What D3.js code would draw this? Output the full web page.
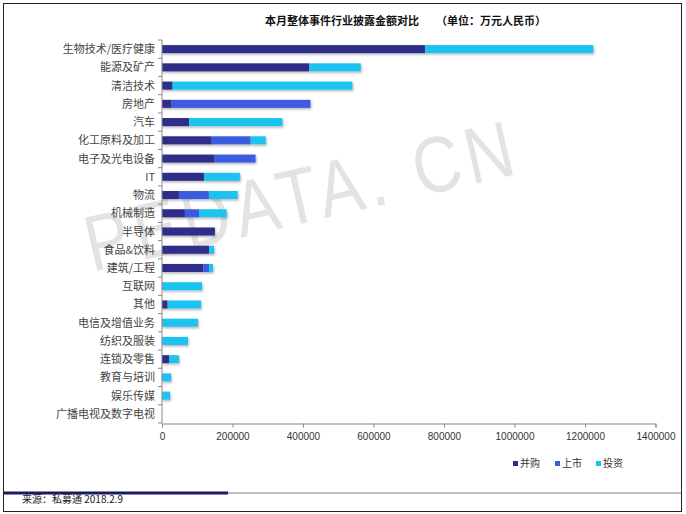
<!DOCTYPE html>
<html><head><meta charset="utf-8">
<script src="https://cdn.jsdelivr.net/npm/d3@7"></script>
<style>
html,body{margin:0;padding:0;background:#fff;}
svg{display:block;font-family:"Noto Sans CJK SC","DejaVu Sans",sans-serif;}
</style></head>
<body>
<svg id="c" width="686" height="514"></svg>
<script>
const categories = ["生物技术/医疗健康","能源及矿产","清洁技术","房地产","汽车","化工原料及加工","电子及光电设备","IT","物流","机械制造","半导体","食品&饮料","建筑/工程","互联网","其他","电信及增值业务","纺织及服装","连锁及零售","教育与培训","娱乐传媒","广播电视及数字电视"];
const seriesNames = ["并购","上市","投资"];
const mergers = [746000,418000,30000,27500,76600,139000,147500,119000,48000,65000,150000,134000,117000,0,16000,0,0,20000,0,0,0];
const ipos    = [0,0,0,393500,0,112600,118000,0,85000,40000,0,0,17000,0,0,0,0,0,0,0,0];
const invest  = [477600,146000,510000,0,265000,42600,0,102000,81700,78500,0,13500,10700,113500,94600,102000,73800,28000,25500,22700,0];
const xTicks = [0,200000,400000,600000,800000,1000000,1200000,1400000];
const colors = ["#2d2e88","#3a5ce0","#1cc2f0"];

const svg = d3.select("#c");
// frame
svg.append("rect").attr("x",3.5).attr("y",3.5).attr("width",678).attr("height",508).attr("fill","#fff").attr("stroke","#222").attr("stroke-width",1);

// watermark
svg.append("text").attr("transform","translate(92,272) rotate(-13) scale(0.92,1.1)")
  .attr("font-family","Liberation Sans, Arial, sans-serif").attr("font-size",72)
  .attr("fill","#e3e3e3").attr("letter-spacing",6).text("PEDATA. CN");

// title
svg.append("text").attr("x",265).attr("y",25).attr("font-size",11).attr("font-weight","bold").attr("fill","#111")
  .text("本月整体事件行业披露金额对比");
svg.append("text").attr("x",436).attr("y",25).attr("font-size",11).attr("font-weight","bold").attr("fill","#111")
  .text("（单位：万元人民币）");

const x = d3.scaleLinear().domain([0,1400000]).range([162,655.5]);
const y = d3.scaleBand().domain(categories).range([40,423]).paddingInner(0.56).paddingOuter(0.28);

const data = categories.map((c,i)=>({cat:c, 并购:mergers[i], 上市:ipos[i], 投资:invest[i]}));
const stack = d3.stack().keys(seriesNames)(data);

const defs = svg.append("defs");
const f = defs.append("filter").attr("id","sh").attr("x","-5%").attr("y","-50%").attr("width","110%").attr("height","200%");
f.append("feDropShadow").attr("dx",1).attr("dy",1.5).attr("stdDeviation",1).attr("flood-color","#000").attr("flood-opacity",0.3);

const g = svg.append("g").attr("filter","url(#sh)");
stack.forEach((s,si)=>{
  g.selectAll(null).data(s).join("rect")
    .attr("x",d=>x(d[0])).attr("y",(d,i)=>y(categories[i]))
    .attr("width",d=>Math.max(0,x(d[1])-x(d[0]))).attr("height",y.bandwidth())
    .attr("fill",colors[si]);
});

// y axis
const ya = svg.append("g").attr("transform","translate(162,0)");
ya.append("line").attr("x1",0).attr("x2",0).attr("y1",40).attr("y2",423).attr("stroke","#888");
const step = y.step();
d3.range(categories.length+1).forEach(i=>{
  ya.append("line").attr("x1",-4).attr("x2",0).attr("y1",40+i*step).attr("y2",40+i*step).attr("stroke","#888");
});
svg.append("g").selectAll("text").data(categories).join("text")
  .attr("x",155).attr("y",d=>y(d)+y.bandwidth()/2+4).attr("text-anchor","end")
  .attr("font-size",11).attr("fill","#444").text(d=>d);

// x axis
const xa = svg.append("g").attr("transform","translate(0,423.5)")
  .call(d3.axisBottom(x).tickValues(xTicks).tickFormat(d3.format("d")).tickSize(4).tickPadding(5));
xa.select(".domain").attr("stroke","#888");
xa.selectAll(".tick line").attr("stroke","#888");
xa.selectAll(".tick text").attr("font-size",10).attr("fill","#333").attr("font-family","Liberation Sans, Arial, sans-serif");

// legend
const lg = svg.append("g");
const lx = [513,555,596];
seriesNames.forEach((n,i)=>{
  lg.append("rect").attr("x",lx[i]).attr("y",461).attr("width",5).attr("height",5).attr("fill",colors[i]);
  lg.append("text").attr("x",lx[i]+7).attr("y",467).attr("font-size",10).attr("fill","#333").text(n);
});

// footer
svg.append("line").attr("x1",4).attr("x2",228).attr("y1",493).attr("y2",493).attr("stroke","#1a1a5e").attr("stroke-width",3);
svg.append("line").attr("x1",228).attr("x2",681).attr("y1",493).attr("y2",493).attr("stroke","#aaa").attr("stroke-width",1.5);
svg.append("text").attr("x",22).attr("y",503).attr("font-size",10).attr("fill","#222").text("来源：私募通  2018.2.9");
</script>
</body></html>
